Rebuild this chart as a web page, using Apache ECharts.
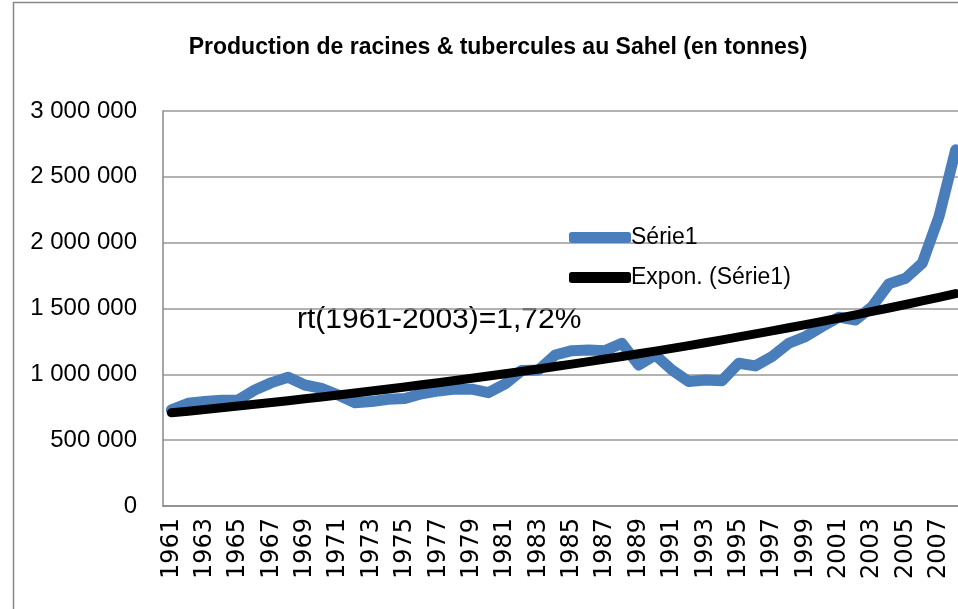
<!DOCTYPE html>
<html>
<head>
<meta charset="utf-8">
<title>Production de racines & tubercules au Sahel</title>
<script src="https://cdn.jsdelivr.net/npm/echarts@6/dist/echarts.min.js"></script>
<style>
  html, body { margin: 0; padding: 0; background: #fff; }
  #main { width: 958px; height: 609px; }
</style>
</head>
<body>
<div id="main"></div>
<script>
// années et production (tonnes)
var years = ['1961', '1962', '1963', '1964', '1965', '1966', '1967', '1968', '1969', '1970',
  '1971', '1972', '1973', '1974', '1975', '1976', '1977', '1978', '1979', '1980',
  '1981', '1982', '1983', '1984', '1985', '1986', '1987', '1988', '1989', '1990',
  '1991', '1992', '1993', '1994', '1995', '1996', '1997', '1998', '1999', '2000',
  '2001', '2002', '2003', '2004', '2005', '2006', '2007', '2008'];

var production = [730000, 780000, 793000, 803000, 805000, 881000, 937000, 978000, 919000, 894000,
  843000, 785000, 793000, 811000, 816000, 852000, 874000, 889000, 887000, 861000,
  927000, 1030000, 1033000, 1147000, 1180000, 1185000, 1180000, 1236000, 1071000, 1147000,
  1033000, 945000, 957000, 952000, 1084000, 1064000, 1135000, 1236000, 1287000, 1363000,
  1434000, 1413000, 1515000, 1687000, 1730000, 1844000, 2198000, 2705000];

var yTicks = [0, 500000, 1000000, 1500000, 2000000, 2500000, 3000000];

var seriesName = 'Série1';
var trendName = 'Expon. (Série1)';
var note = 'rt(1961-2003)=1,72%';

// courbe de tendance exponentielle (moindres carrés sur ln y), comme Excel
function expTrend(data) {
  var n = data.length, sx = 0, sy = 0, sxx = 0, sxy = 0;
  for (var i = 0; i < n; i++) {
    var ly = Math.log(data[i]);
    sx += i; sy += ly; sxx += i * i; sxy += i * ly;
  }
  var b = (n * sxy - sx * sy) / (n * sxx - sx * sx);
  var a = (sy - b * sx) / n;
  return data.map(function (v, i) { return Math.round(Math.exp(a + b * i)); });
}
var trend = expTrend(production);

function fmt(v) {
  return String(v).replace(/\B(?=(\d{3})+(?!\d))/g, ' ');
}

var font = 'Liberation Sans';
var myChart = echarts.init(document.getElementById('main'));

var option = {
  animation: false,
  backgroundColor: '#fff',
  title: {
    text: 'Production de racines & tubercules au Sahel (en tonnes)',
    left: 493,
    textAlign: 'center',
    top: 31,
    textStyle: { fontFamily: font, fontSize: 23, fontWeight: 'bold', color: '#000' }
  },
  legend: {
    orient: 'vertical',
    left: 564,
    top: 221,
    itemGap: 17,
    itemWidth: 62,
    itemHeight: 11,
    icon: 'roundRect',
    textStyle: { fontFamily: font, fontSize: 23, color: '#000', padding: [0, 0, 0, -5] },
    data: [seriesName, trendName]
  },
  graphic: [
    {
      type: 'rect',
      shape: { x: 13.5, y: 2.5, width: 1000, height: 700 },
      style: { fill: null, stroke: '#888', lineWidth: 1.5 },
      silent: true
    },
    {
      type: 'text',
      left: 297,
      top: 305,
      style: { text: note, font: '30px "Liberation Sans"', fill: '#000' }
    }
  ],
  grid: {
    left: 163,
    top: 111,
    width: 801,
    height: 395,
    outerBoundsMode: 'none'
  },
  xAxis: {
    type: 'category',
    data: years,
    boundaryGap: true,
    axisLine: { lineStyle: { color: '#888', width: 1.5 } },
    axisTick: { show: false },
    axisLabel: {
      interval: 1,
      rotate: 90,
      margin: 12,
      fontFamily: 'DejaVu Sans',
      fontSize: 24,
      color: '#000'
    }
  },
  yAxis: {
    type: 'value',
    min: yTicks[0],
    max: yTicks[yTicks.length - 1],
    interval: yTicks[1] - yTicks[0],
    axisLine: { show: true, lineStyle: { color: '#888', width: 1.5 } },
    axisTick: { show: false },
    splitLine: { lineStyle: { color: '#999', width: 1.5 } },
    axisLabel: {
      margin: 26,
      fontFamily: font,
      fontSize: 24,
      color: '#000',
      formatter: fmt
    }
  },
  series: [
    {
      name: seriesName,
      type: 'line',
      data: production,
      showSymbol: false,
      symbol: 'none',
      color: '#4A7EBB',
      lineStyle: { width: 11, color: '#4A7EBB', cap: 'round', join: 'round' },
      z: 2
    },
    {
      name: trendName,
      type: 'line',
      data: trend,
      showSymbol: false,
      symbol: 'none',
      color: '#000',
      lineStyle: { width: 9, color: '#000', cap: 'round', join: 'round' },
      z: 3
    }
  ]
};

myChart.setOption(option);
</script>
</body>
</html>
